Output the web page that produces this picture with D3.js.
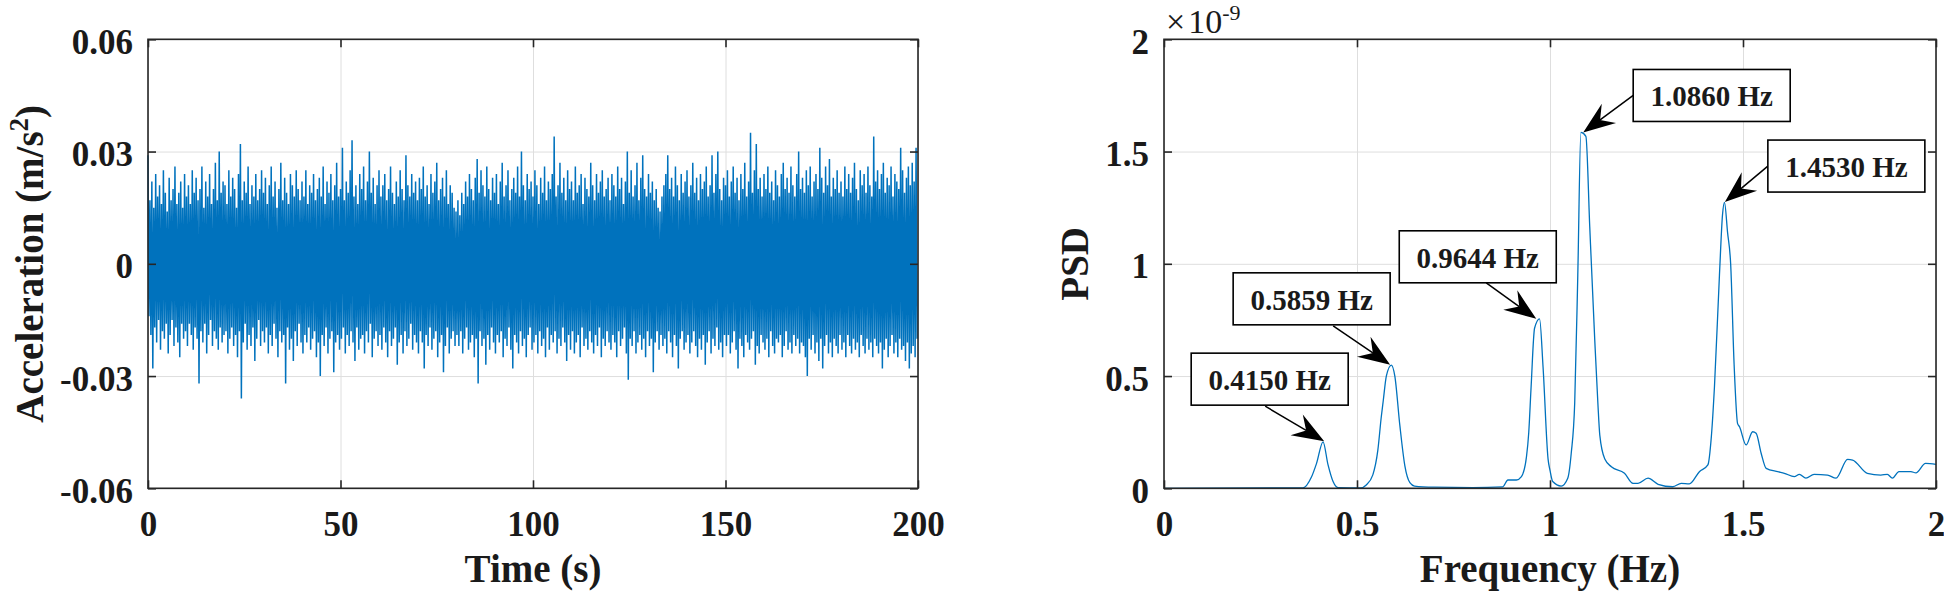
<!DOCTYPE html>
<html>
<head>
<meta charset="utf-8">
<script src="https://cdn.jsdelivr.net/npm/d3@7"></script>
<style>
body{margin:0;background:#fff;}
text{font-family:"Liberation Serif","Times New Roman",serif;fill:#1a1a1a;}
</style>
</head>
<body>
<svg id="fig" width="1944" height="593"></svg>
<script>
// acceleration record in mm/s^2, one value every 0.25 s (upper / lower swing)
var accelDt = 0.25;
var accel = [
29,-14,17,-19,22,-28,15,-17,24,-21,18,-15,21,-23,16,-18,25,-20,19,-16,14,-24,23,-19,17,-15,20,-22,26,-17,16,-21,19,-25,22,-16,15,-20,24,-18,
18,-22,21,-16,16,-19,25,-23,19,-17,23,-20,17,-32,20,-18,26,-21,15,-16,22,-24,18,-19,24,-15,16,-22,20,-18,27,-20,17,-23,30,-17,19,-21,22,-19,
21,-18,16,-24,25,-20,18,-17,23,-22,20,-19,15,-25,24,-18,32,-36,17,-21,22,-16,19,-23,26,-19,16,-22,21,-17,18,-26,24,-20,17,-15,20,-22,25,-18,
19,-21,23,-17,16,-24,21,-19,26,-22,18,-16,22,-20,15,-25,20,-18,27,-21,17,-19,23,-32,19,-17,16,-23,24,-20,21,-26,18,-18,25,-22,20,-16,17,-21,
22,-24,18,-19,25,-21,16,-17,21,-23,19,-20,24,-18,17,-25,20,-21,23,-30,18,-19,26,-22,16,-17,22,-24,19,-20,24,-18,17,-29,21,-21,27,-19,18,-23,
20,-20,31,-17,17,-24,22,-19,19,-22,25,-18,33,-21,18,-26,21,-17,16,-23,24,-20,20,-19,26,-24,17,-18,22,-21,30,-16,19,-25,23,-20,16,-18,21,-22,
25,-19,18,-23,21,-17,24,-21,17,-25,20,-18,26,-22,19,-20,16,-17,22,-27,18,-21,25,-19,20,-24,17,-18,29,-22,21,-20,18,-16,24,-23,19,-19,22,-21,
17,-24,23,-18,20,-21,26,-28,18,-19,21,-22,16,-17,24,-23,19,-20,22,-18,27,-25,17,-21,20,-19,23,-29,18,-22,25,-17,16,-24,21,-20,19,-18,15,-22,
14,-19,17,-22,13,-18,19,-24,16,-20,22,-17,18,-23,24,-21,20,-19,17,-25,23,-20,28,-32,19,-18,25,-22,21,-20,18,-27,26,-19,20,-23,17,-17,23,-21,
19,-24,24,-19,16,-21,22,-18,27,-25,18,-20,21,-22,25,-17,17,-23,20,-28,23,-19,19,-21,26,-24,18,-18,30,-22,21,-20,17,-25,24,-19,20,-17,22,-23,
18,-21,25,-19,21,-24,16,-18,23,-22,19,-20,26,-25,17,-17,22,-23,20,-19,24,-21,34,-18,18,-24,21,-20,27,-22,19,-17,23,-21,17,-26,25,-19,20,-23,
22,-18,17,-24,26,-21,19,-19,21,-25,24,-17,16,-22,23,-20,20,-23,18,-18,27,-21,21,-24,17,-19,24,-22,19,-17,22,-25,25,-20,18,-22,20,-18,23,-21,
17,-23,24,-19,21,-21,18,-25,26,-18,20,-22,23,-20,16,-17,22,-24,30,-31,19,-20,25,-22,18,-18,21,-24,27,-21,17,-19,23,-23,29,-20,20,-25,18,-18,
24,-22,19,-20,22,-29,17,-21,20,-18,15,-23,14,-19,18,-22,21,-20,24,-24,29,-18,20,-21,23,-25,18,-19,26,-22,21,-28,17,-20,24,-18,19,-23,22,-21,
25,-19,18,-24,21,-21,27,-18,19,-22,23,-25,17,-20,24,-23,20,-19,22,-27,26,-21,18,-18,21,-24,29,-20,19,-22,24,-17,30,-23,20,-21,17,-25,23,-19,
21,-22,25,-19,18,-24,22,-21,26,-18,19,-23,23,-28,17,-20,24,-22,20,-25,27,-19,18,-21,22,-23,35,-20,19,-18,25,-27,32,-22,20,-24,23,-19,18,-21,
24,-23,20,-20,26,-25,19,-18,22,-22,17,-24,25,-20,21,-21,18,-19,24,-25,27,-22,20,-18,23,-23,19,-21,26,-24,21,-19,18,-22,24,-20,30,-24,20,-21,
23,-22,19,-25,25,-30,21,-20,26,-23,18,-19,22,-24,24,-21,20,-26,31,-20,23,-28,19,-22,26,-19,21,-24,28,-21,18,-25,23,-20,20,-22,25,-24,19,-19,
22,-23,18,-21,26,-25,20,-19,24,-22,19,-24,23,-20,27,-23,20,-21,17,-25,25,-19,21,-22,24,-24,19,-20,26,-23,21,-21,18,-25,34,-20,22,-22,25,-24,
20,-21,24,-28,27,-23,19,-20,23,-25,21,-22,26,-19,18,-24,24,-21,22,-25,20,-20,31,-23,25,-22,19,-26,23,-21,26,-28,21,-24,27,-22,22,-25,31,-20
];
var timeTicks = [0, 50, 100, 150, 200];
var timeTickLabels = ["0", "50", "100", "150", "200"];
var accelTicks = [-0.06, -0.03, 0, 0.03, 0.06];
var accelTickLabels = ["-0.06", "-0.03", "0", "0.03", "0.06"];

// power spectral density, values in units of 1e-9
var psdFreq = [0, 0.36, 0.382, 0.395, 0.412, 0.425, 0.438, 0.451, 0.51, 0.524, 0.541, 0.554, 0.563, 0.568, 0.576, 0.589,
  0.598, 0.611, 0.624, 0.637, 0.649, 0.70, 0.80, 0.877, 0.891, 0.913, 0.926, 0.939, 0.945, 0.951, 0.960, 0.973, 0.982,
  0.995, 1.0, 1.007, 1.029, 1.046, 1.055, 1.064, 1.072, 1.080, 1.093, 1.103, 1.116, 1.124, 1.129, 1.142, 1.159, 1.193,
  1.215, 1.228, 1.254, 1.280, 1.318, 1.340, 1.361, 1.387, 1.409, 1.418, 1.426, 1.439, 1.447, 1.452, 1.460, 1.468, 1.477,
  1.486, 1.491, 1.508, 1.525, 1.534, 1.547, 1.560, 1.590, 1.607, 1.633, 1.646, 1.663, 1.684, 1.719, 1.741, 1.771, 1.784,
  1.822, 1.857, 1.874, 1.887, 1.904, 1.935, 1.948, 1.973, 2.0];
var psdVal = [0, 0.002, 0.05, 0.11, 0.207, 0.104, 0.03, 0.003, 0.002, 0.015, 0.06, 0.17, 0.32, 0.39, 0.50, 0.549,
  0.50, 0.28, 0.10, 0.025, 0.01, 0.005, 0.003, 0.006, 0.037, 0.037, 0.052, 0.14, 0.25, 0.45, 0.713, 0.755, 0.54,
  0.13, 0.08, 0.03, 0.01, 0.045, 0.156, 0.38, 0.95, 1.585, 1.568, 1.164, 0.659, 0.38, 0.237, 0.13, 0.096, 0.067,
  0.022, 0.022, 0.045, 0.018, 0.007, 0.022, 0.02, 0.074, 0.104, 0.23, 0.45, 0.95, 1.22, 1.274, 1.14, 1.0, 0.55,
  0.288, 0.274, 0.193, 0.252, 0.245, 0.156, 0.089, 0.074, 0.067, 0.052, 0.062, 0.045, 0.062, 0.059, 0.045, 0.129, 0.126,
  0.067, 0.059, 0.062, 0.045, 0.074, 0.074, 0.069, 0.111, 0.107];
var freqTicks = [0, 0.5, 1, 1.5, 2];
var freqTickLabels = ["0", "0.5", "1", "1.5", "2"];
var psdTicks = [0, 0.5, 1, 1.5, 2];
var psdTickLabels = ["0", "0.5", "1", "1.5", "2"];

var peakFreq = [0.415, 0.5859, 0.9644, 1.086, 1.453];
var peakPsd = [0.21, 0.55, 0.755, 1.585, 1.275];
var peakLabel = ["0.4150 Hz", "0.5859 Hz", "0.9644 Hz", "1.0860 Hz", "1.4530 Hz"];

// where each text box sits, relative to the arrow tip (left, top, tail x, tail y)
var boxLayout = [[-133, -88, -59, -35], [-157, -92, -57, -39], [-137, -88, -50, -36], [50, -63, 50, -37], [43, -62, 43, -36]];
var boxW = 157, boxH = 52;

var svg = d3.select("#fig");
var blue = "#0072bd", frame = "#262626", gridC = "#dedede";

function panel(p, xs, ys, xt, yt) {
  var g = svg.append("g");
  // grid
  g.append("g").attr("transform", "translate(0," + p.y1 + ")")
    .call(d3.axisBottom(xs).tickValues(xt).tickSize(-(p.y1 - p.y0)).tickFormat(""))
    .call(a => a.select(".domain").remove())
    .selectAll("line").attr("stroke", gridC).attr("stroke-width", 1);
  g.append("g").attr("transform", "translate(" + p.x0 + ",0)")
    .call(d3.axisLeft(ys).tickValues(yt).tickSize(-(p.x1 - p.x0)).tickFormat(""))
    .call(a => a.select(".domain").remove())
    .selectAll("line").attr("stroke", gridC).attr("stroke-width", 1);
  return g;
}

function frameAxes(g, p, xs, ys, xt, xl, yt, yl) {
  g.append("rect").attr("x", p.x0).attr("y", p.y0).attr("width", p.x1 - p.x0).attr("height", p.y1 - p.y0)
    .attr("fill", "none").attr("stroke", frame).attr("stroke-width", 1.6);
  var b = g.append("g").attr("transform", "translate(0," + p.y1 + ")")
    .call(d3.axisBottom(xs).tickValues(xt).tickSizeInner(-8).tickSizeOuter(0).tickPadding(23)
      .tickFormat((d, i) => xl[i]));
  var t = g.append("g").attr("transform", "translate(0," + p.y0 + ")")
    .call(d3.axisTop(xs).tickValues(xt).tickSizeInner(-8).tickSizeOuter(0).tickFormat(""));
  var l = g.append("g").attr("transform", "translate(" + p.x0 + ",0)")
    .call(d3.axisLeft(ys).tickValues(yt).tickSizeInner(-8).tickSizeOuter(0).tickPadding(15)
      .tickFormat((d, i) => yl[i]));
  var r = g.append("g").attr("transform", "translate(" + p.x1 + ",0)")
    .call(d3.axisRight(ys).tickValues(yt).tickSizeInner(-8).tickSizeOuter(0).tickFormat(""));
  [b, t, l, r].forEach(a => {
    a.select(".domain").remove();
    a.selectAll("line").attr("stroke", frame).attr("stroke-width", 1.6);
    a.selectAll("text").attr("font-size", 35).attr("font-weight", "bold")
      .attr("font-family", "'Liberation Serif','Times New Roman',serif").attr("fill", "#1a1a1a");
  });
  l.selectAll("text").attr("dy", "0.4em");
}

// ---- left: acceleration time history
var pL = {x0: 148, x1: 918, y0: 39.3, y1: 488.3};
var xT = d3.scaleLinear().domain([0, 200]).range([pL.x0, pL.x1]);
var yA = d3.scaleLinear().domain([-0.06, 0.06]).range([pL.y1, pL.y0]);
var gL = panel(pL, xT, yA, timeTicks, accelTicks);
gL.append("path").datum(accel)
  .attr("d", d3.line().x((d, i) => xT(i * accelDt)).y(d => yA(d / 1000)))
  .attr("fill", "none").attr("stroke", blue).attr("stroke-width", 1.5);
frameAxes(gL, pL, xT, yA, timeTicks, timeTickLabels, accelTicks, accelTickLabels);

svg.append("text").attr("x", (pL.x0 + pL.x1) / 2).attr("y", 582).attr("text-anchor", "middle")
  .attr("font-size", 39).attr("font-weight", "bold").text("Time (s)");
var yLab = svg.append("text").attr("transform", "translate(43," + ((pL.y0 + pL.y1) / 2) + ") rotate(-90)")
  .attr("text-anchor", "middle").attr("font-size", 39).attr("font-weight", "bold");
yLab.append("tspan").text("Acceleration (m/s");
yLab.append("tspan").attr("font-size", 27).attr("dy", -15).text("2");
yLab.append("tspan").attr("dy", 15).text(")");

// ---- right: PSD
var pR = {x0: 1164, x1: 1936, y0: 39.3, y1: 488.3};
var xF = d3.scaleLinear().domain([0, 2]).range([pR.x0, pR.x1]);
var yP = d3.scaleLinear().domain([0, 2]).range([pR.y1, pR.y0]);
var gR = panel(pR, xF, yP, freqTicks, psdTicks);
gR.append("path").datum(psdFreq)
  .attr("d", d3.line().curve(d3.curveMonotoneX).x(d => xF(d)).y((d, i) => yP(psdVal[i])))
  .attr("fill", "none").attr("stroke", blue).attr("stroke-width", 1.3);
frameAxes(gR, pR, xF, yP, freqTicks, freqTickLabels, psdTicks, psdTickLabels);

svg.append("text").attr("x", (pR.x0 + pR.x1) / 2).attr("y", 582).attr("text-anchor", "middle")
  .attr("font-size", 39).attr("font-weight", "bold").text("Frequency (Hz)");
svg.append("text").attr("transform", "translate(1088," + ((pR.y0 + pR.y1) / 2) + ") rotate(-90)")
  .attr("text-anchor", "middle").attr("font-size", 39).attr("font-weight", "bold").text("PSD");
var ex = svg.append("text").attr("x", pR.x0 + 2).attr("y", 33).attr("font-size", 34);
ex.append("tspan").text("\u00d7");
ex.append("tspan").attr("dx", 3).text("10");
ex.append("tspan").attr("font-size", 22).attr("dy", -13).text("-9");

// ---- peak call-outs
var head = "M0,0 L-32,-12 L-21,0 L-32,12 Z";
peakFreq.forEach(function(f, i) {
  var tx = xF(f), ty = yP(peakPsd[i]), lay = boxLayout[i];
  var sx = tx + lay[2], sy = ty + lay[3];
  var ang = Math.atan2(ty - sy, tx - sx);
  var g = svg.append("g");
  g.append("line").attr("x1", sx).attr("y1", sy)
    .attr("x2", tx - 21 * Math.cos(ang)).attr("y2", ty - 21 * Math.sin(ang))
    .attr("stroke", "#000").attr("stroke-width", 1.5);
  g.append("path").attr("d", head)
    .attr("transform", "translate(" + tx + "," + ty + ") rotate(" + (ang * 180 / Math.PI) + ")")
    .attr("fill", "#000");
  g.append("rect").attr("x", tx + lay[0]).attr("y", ty + lay[1]).attr("width", boxW).attr("height", boxH)
    .attr("fill", "#fff").attr("stroke", "#000").attr("stroke-width", 1.6);
  g.append("text").attr("x", tx + lay[0] + boxW / 2).attr("y", ty + lay[1] + 37)
    .attr("text-anchor", "middle").attr("font-size", 29).attr("font-weight", "bold").text(peakLabel[i]);
});
</script>
</body>
</html>
